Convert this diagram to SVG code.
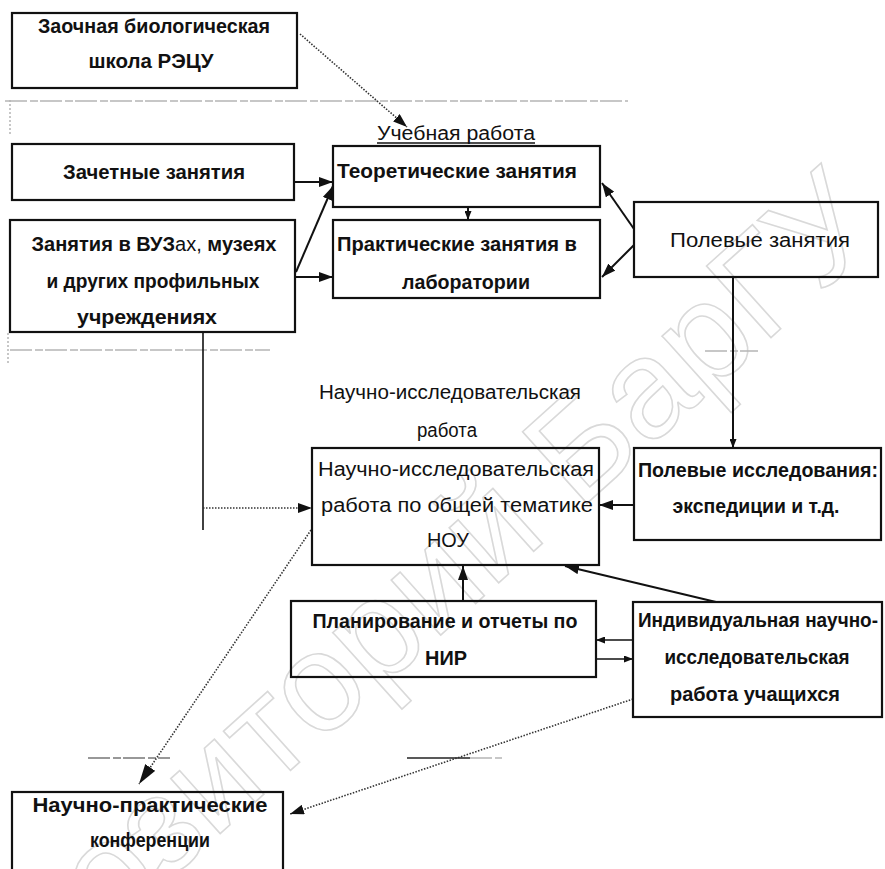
<svg xmlns="http://www.w3.org/2000/svg" width="885" height="869" viewBox="0 0 885 869">
<defs>
<style>
.box{fill:none;stroke:#111;stroke-width:2.2}
.t{font-family:"Liberation Sans",Arial,sans-serif;font-size:20px;fill:#111;text-anchor:middle}
.b{font-weight:bold}
.ln{stroke:#111;stroke-width:2;fill:none}
.dot{stroke:#333;stroke-width:1.6;stroke-dasharray:1.5 1.5;fill:none}
.faint{stroke:#b5b5b5;stroke-width:1.5;fill:none;stroke-dasharray:22 3 8 2}
.wm{font-family:"Liberation Sans",Arial,sans-serif;font-size:140px;fill:none;stroke:#d9d9d9;stroke-width:1.6;text-anchor:end}
</style>
<marker id="ah" markerWidth="14" markerHeight="10" refX="14" refY="5" orient="auto" markerUnits="userSpaceOnUse"><path d="M0,0 L14,5 L0,10 z" fill="#111"/></marker>
<marker id="as" markerWidth="9" markerHeight="7" refX="9" refY="3.5" orient="auto" markerUnits="userSpaceOnUse"><path d="M0,0 L9,3.5 L0,7 z" fill="#111"/></marker>
<marker id="ab" markerWidth="20" markerHeight="12" refX="20" refY="6" orient="auto" markerUnits="userSpaceOnUse"><path d="M0,0 L20,6 L0,12 z" fill="#111"/></marker>
</defs>
<rect width="885" height="869" fill="#fff"/>

<g id="watermark">
<text class="wm" x="885" y="235" transform="rotate(-42 885 235)">Репозиторий БарГУ</text>
</g>

<g id="artifacts">
<line class="faint" x1="5" y1="101" x2="628" y2="101"/>
<line class="faint" x1="10" y1="100" x2="10" y2="135" style="stroke-dasharray:2 2"/>
<line class="faint" x1="10" y1="350" x2="270" y2="350"/>
<line class="faint" x1="705" y1="351" x2="758" y2="351"/>
<line class="faint" x1="8" y1="333" x2="8" y2="364" style="stroke-dasharray:2 2"/>
<line class="faint" x1="88" y1="758" x2="170" y2="758" style="stroke:#777"/>
<line x1="407" y1="758" x2="470" y2="758" stroke="#222" stroke-width="1.5"/>
<line class="faint" x1="470" y1="758" x2="502" y2="758"/>
</g>

<g id="connectors">
<line class="dot" x1="300" y1="34" x2="407" y2="127" marker-end="url(#ah)"/>
<line class="ln" x1="295" y1="182" x2="333" y2="182" marker-end="url(#ah)"/>
<line class="ln" x1="296" y1="272" x2="333" y2="186" marker-end="url(#ah)"/>
<line class="ln" x1="296" y1="277" x2="333" y2="277" marker-end="url(#ah)"/>
<line class="ln" x1="468" y1="207" x2="468" y2="220" marker-end="url(#as)"/>
<line class="ln" x1="634" y1="229" x2="602" y2="183" marker-end="url(#ah)"/>
<line class="ln" x1="634" y1="245" x2="602" y2="277" marker-end="url(#ah)"/>
<line class="ln" x1="733" y1="277" x2="733" y2="448" marker-end="url(#as)"/>
<line class="ln" x1="634" y1="505" x2="599" y2="505" marker-end="url(#ah)"/>
<line class="ln" x1="203" y1="332" x2="203" y2="530" style="stroke-width:1.6"/>
<line class="dot" x1="203" y1="508" x2="312" y2="508" marker-end="url(#ah)"/>
<line class="ln" x1="463" y1="601" x2="463" y2="566" marker-end="url(#ah)"/>
<line class="ln" x1="716" y1="602" x2="565" y2="566" marker-end="url(#ah)"/>
<line class="ln" x1="633" y1="640" x2="596" y2="640" style="stroke-width:1.5" marker-end="url(#as)"/>
<line class="ln" x1="596" y1="659" x2="633" y2="659" style="stroke-width:1.5" marker-end="url(#as)"/>
<line class="dot" x1="311" y1="530" x2="139" y2="784" marker-end="url(#ab)"/>
<line class="dot" x1="633" y1="699" x2="290" y2="814" marker-end="url(#ah)"/>
</g>

<g id="node-zaochnaya">
<rect class="box" x="12" y="13" width="285" height="75"/>
<text class="t b" x="154" y="33" textLength="232" lengthAdjust="spacingAndGlyphs">Заочная биологическая</text>
<text class="t b" x="151" y="68" textLength="125" lengthAdjust="spacingAndGlyphs">школа РЭЦУ</text>
</g>

<g id="label-uchebnaya">
<text class="t" x="456" y="140" textLength="158" lengthAdjust="spacingAndGlyphs">Учебная работа</text>
<line x1="377" y1="143" x2="535" y2="143" stroke="#111" stroke-width="1.5"/>
</g>

<g id="node-zachetnye">
<rect class="box" x="12" y="144" width="282" height="56"/>
<text class="t b" x="154" y="179" textLength="182" lengthAdjust="spacingAndGlyphs">Зачетные занятия</text>
</g>

<g id="node-teoret">
<rect class="box" x="333" y="146" width="267" height="61"/>
<text class="t b" x="457" y="178" textLength="240" lengthAdjust="spacingAndGlyphs">Теоретические занятия</text>
</g>

<g id="node-vuz">
<rect class="box" x="10" y="220" width="285" height="112"/>
<text class="t b" x="154" y="251" textLength="245" lengthAdjust="spacingAndGlyphs">Занятия в ВУЗ<tspan font-weight="normal">ах,</tspan> музеях</text>
<text class="t b" x="153" y="288" textLength="213" lengthAdjust="spacingAndGlyphs">и других профильных</text>
<text class="t b" x="147" y="324" textLength="140" lengthAdjust="spacingAndGlyphs">учреждениях</text>
</g>

<g id="node-prakt">
<rect class="box" x="333" y="220" width="267" height="78"/>
<text class="t b" x="457" y="251" textLength="240" lengthAdjust="spacingAndGlyphs">Практические занятия в</text>
<text class="t b" x="466" y="289" textLength="128" lengthAdjust="spacingAndGlyphs">лаборатории</text>
</g>

<g id="node-polevye">
<rect class="box" x="634" y="202" width="244" height="75"/>
<text class="t" x="760" y="247" textLength="180" lengthAdjust="spacingAndGlyphs">Полевые занятия</text>
</g>

<g id="label-nir">
<text class="t" x="450" y="399" textLength="262" lengthAdjust="spacingAndGlyphs">Научно-исследовательская</text>
<text class="t" x="447" y="437" textLength="60" lengthAdjust="spacingAndGlyphs">работа</text>
</g>

<g id="node-nou">
<rect class="box" x="312" y="448" width="287" height="117"/>
<text class="t" x="456" y="476" textLength="276" lengthAdjust="spacingAndGlyphs">Научно-исследовательская</text>
<text class="t" x="457" y="512" textLength="272" lengthAdjust="spacingAndGlyphs">работа по общей тематике</text>
<text class="t" x="448" y="547" textLength="42" lengthAdjust="spacingAndGlyphs">НОУ</text>
</g>

<g id="node-issled">
<rect class="box" x="634" y="448" width="247" height="92"/>
<text class="t b" x="758" y="477" textLength="240" lengthAdjust="spacingAndGlyphs">Полевые исследования:</text>
<text class="t b" x="756" y="513" textLength="167" lengthAdjust="spacingAndGlyphs">экспедиции и т.д.</text>
</g>

<g id="node-plan">
<rect class="box" x="291" y="601" width="305" height="76"/>
<text class="t b" x="445" y="628" textLength="265" lengthAdjust="spacingAndGlyphs">Планирование и отчеты по</text>
<text class="t b" x="446" y="665" textLength="42" lengthAdjust="spacingAndGlyphs">НИР</text>
</g>

<g id="node-indiv">
<rect class="box" x="633" y="602" width="249" height="115"/>
<text class="t b" x="758" y="627" textLength="240" lengthAdjust="spacingAndGlyphs">Индивидуальная научно-</text>
<text class="t b" x="757" y="664" textLength="185" lengthAdjust="spacingAndGlyphs">исследовательская</text>
<text class="t b" x="755" y="701" textLength="170" lengthAdjust="spacingAndGlyphs">работа учащихся</text>
</g>

<g id="node-konf">
<rect class="box" x="12" y="792" width="271" height="95"/>
<text class="t b" x="150" y="812" textLength="235" lengthAdjust="spacingAndGlyphs">Научно-практические</text>
<text class="t b" x="150" y="847" textLength="120" lengthAdjust="spacingAndGlyphs">конференции</text>
</g>
</svg>
